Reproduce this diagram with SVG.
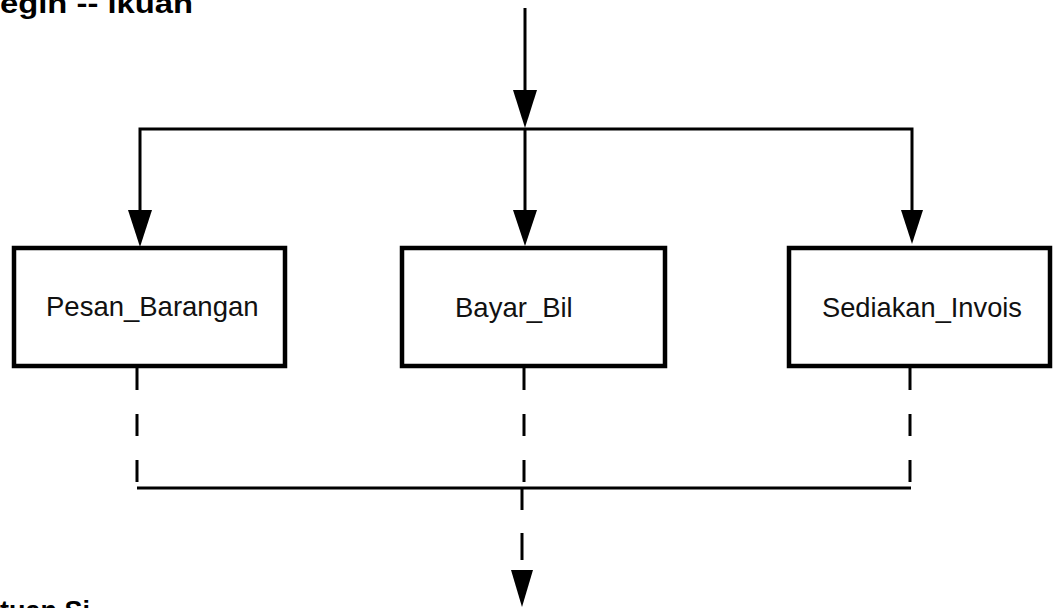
<svg xmlns="http://www.w3.org/2000/svg" width="1053" height="608" viewBox="0 0 1053 608">
<style>
.box{fill:#fff;stroke:#000;stroke-width:4.5}
.ln{fill:none;stroke:#000;stroke-width:3}
.dash{fill:none;stroke:#000;stroke-width:3;stroke-dasharray:22 24}
.ah{fill:#000;stroke:none}
.lbl{font-family:"Liberation Sans",Arial,sans-serif;font-size:27.5px;fill:#111}
.hdr{font-family:"Liberation Sans",Arial,sans-serif;font-size:27px;font-weight:bold;fill:#000}
</style>
<rect width="1053" height="608" fill="#fff"/>
<text class="hdr" x="0" y="13" textLength="193" lengthAdjust="spacingAndGlyphs">egin -- ikuan</text>
<text class="hdr" x="0" y="620">tuan Si</text>
<g id="connectors">
<line class="ln" x1="525" y1="8" x2="525" y2="95"/>
<polygon class="ah" points="513,90 537,90 525,128"/>
<polyline class="ln" points="140,210 140,129 912,129 912,210"/>
<line class="ln" x1="525" y1="128" x2="525" y2="212"/>
<polygon class="ah" points="128,210 152,210 140,247"/>
<polygon class="ah" points="513,210 537,210 525,246"/>
<polygon class="ah" points="901,210 923,210 912,244"/>
<line class="dash" x1="137" y1="368" x2="137" y2="488"/>
<line class="dash" x1="524" y1="368" x2="524" y2="488"/>
<line class="dash" x1="910" y1="368" x2="910" y2="488"/>
<line class="ln" x1="137" y1="488" x2="911" y2="488"/>
<line class="ln" x1="522" y1="488" x2="522" y2="510"/>
<line class="ln" x1="522" y1="533" x2="522" y2="560"/>
<polygon class="ah" points="511,570 533,570 522,607"/>
</g>
<g id="pesan">
<rect class="box" x="14" y="248" width="271" height="118"/>
<text class="lbl" x="46" y="316">Pesan_Barangan</text>
</g>
<g id="bayar">
<rect class="box" x="402" y="248" width="263" height="118"/>
<text class="lbl" x="455" y="317">Bayar_Bil</text>
</g>
<g id="sediakan">
<rect class="box" x="789" y="248" width="261" height="118"/>
<text class="lbl" x="822" y="317" textLength="200" lengthAdjust="spacingAndGlyphs">Sediakan_Invois</text>
</g>
</svg>
